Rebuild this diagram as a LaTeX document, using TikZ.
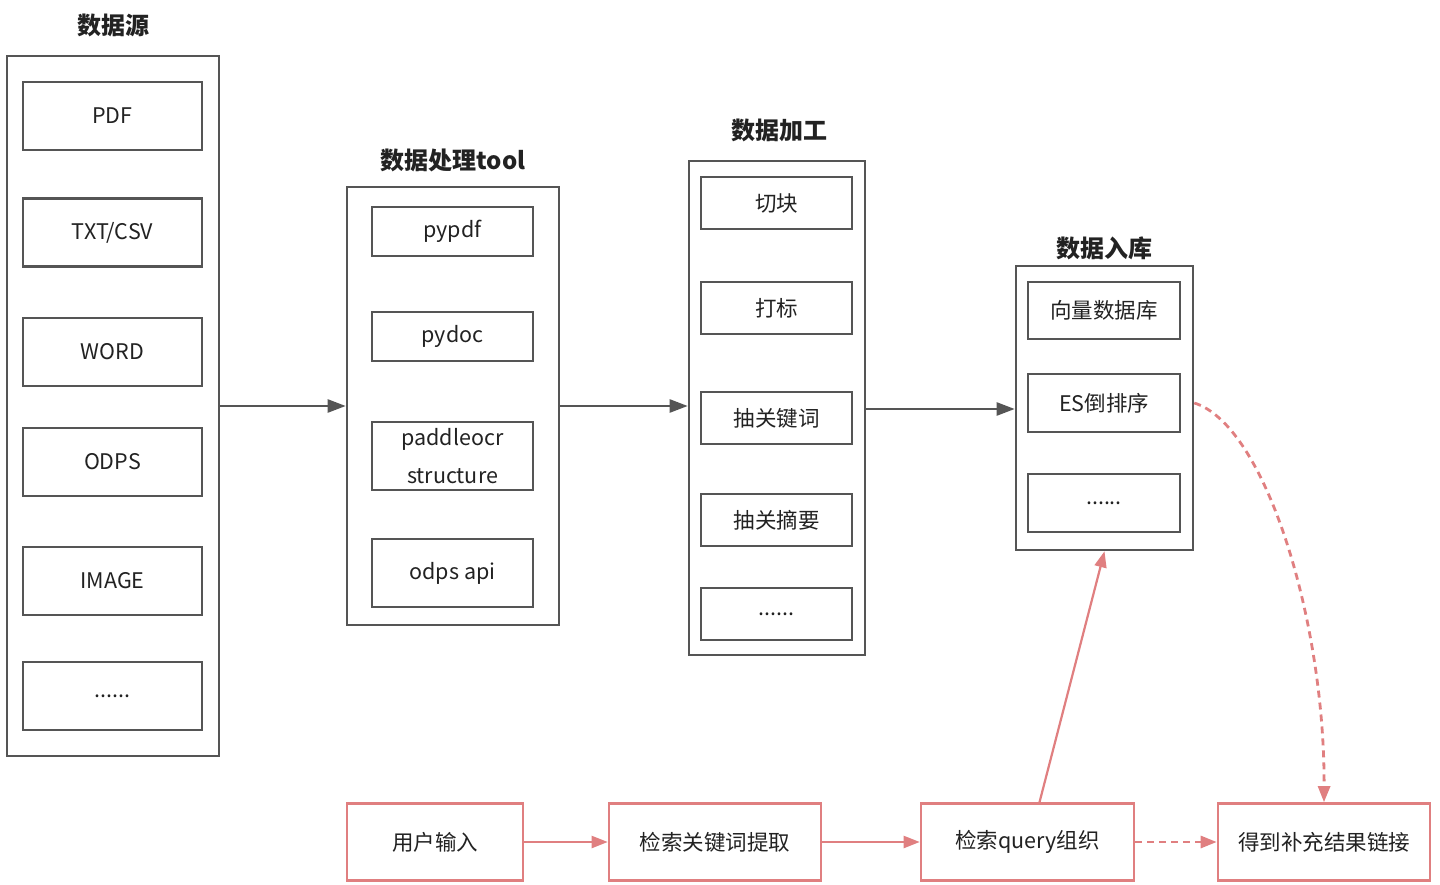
\documentclass[tikz,border=0pt]{standalone}
\usepackage{fontspec}
\setmainfont{Noto Sans CJK SC}
\usetikzlibrary{arrows.meta, positioning}
\definecolor{RGgray}{HTML}{555555}
\definecolor{RGred}{HTML}{E07F80}
\definecolor{RGink}{HTML}{222222}
\tikzset{
  grpbox/.style={rectangle, draw=RGgray, line width=2.6pt, fill=white, inner sep=0pt},
  itembox/.style={rectangle, draw=RGgray, line width=2.6pt, fill=white, text=RGink,
    align=center, inner sep=0pt, font=\fontsize{21.5}{38}\selectfont},
  grptitle/.style={text=RGink, inner sep=0pt, font=\fontsize{24}{28}\selectfont\bfseries},
  flowbox/.style={rectangle, draw=RGred, line width=2.6pt, fill=white, text=RGink,
    align=center, inner sep=0pt, minimum height=77pt, font=\fontsize{21.5}{26}\selectfont},
  grarr/.style={-{Triangle[length=18pt,width=13pt]}, line width=2.4pt, draw=RGgray},
  rdarr/.style={-{Triangle[length=16pt,width=12pt]}, line width=2.2pt, draw=RGred},
  rddash/.style={rdarr, line width=2.8pt, dash pattern=on 7pt off 5pt},
}

\begin{document}
\begin{tikzpicture}[x=1pt, y=-1pt]
  \useasboundingbox (0,0) rectangle (1440,885);
  %% Column 1: 数据源
  \node[grpbox, minimum width=212pt, minimum height=700pt] (src) at (113,406) {};
  \node[grptitle] (srct) at (113,25) {数据源};
  \node[itembox, minimum width=179pt, minimum height=68pt] (pdf) at (112.5,116) {PDF};
  \node[itembox, minimum width=179pt, minimum height=68pt] (txt) at (112.5,232.5) {TXT/CSV};
  \node[itembox, minimum width=179pt, minimum height=68pt] (word) at (112.5,352) {WORD};
  \node[itembox, minimum width=179pt, minimum height=68pt] (odps) at (112.5,462) {ODPS};
  \node[itembox, minimum width=179pt, minimum height=68pt] (img) at (112.5,581) {IMAGE};
  \node[itembox, minimum width=179pt, minimum height=68pt] (srcx) at (112.5,696) {......};
  %% Column 2: 数据处理tool
  \node[grpbox, minimum width=212pt, minimum height=438pt] (proc) at (453,406) {};
  \node[grptitle] (proct) at (453,160) {数据处理tool};
  \node[itembox, minimum width=161pt, minimum height=49pt] (pypdf) at (452.5,231.5) {pypdf};
  \node[itembox, minimum width=161pt, minimum height=49pt] (pydoc) at (452.5,336.5) {pydoc};
  \node[itembox, minimum width=161pt, minimum height=68pt] (paddle) at (452.5,456) {paddleocr\\structure};
  \node[itembox, minimum width=161pt, minimum height=68pt] (odpsapi) at (452.5,573) {odps api};
  %% Column 3: 数据加工
  \node[grpbox, minimum width=176pt, minimum height=494pt] (cook) at (777,408) {};
  \node[grptitle] (cookt) at (779,130) {数据加工};
  \node[itembox, minimum width=151pt, minimum height=52pt] (chunk) at (776.5,203) {切块};
  \node[itembox, minimum width=151pt, minimum height=52pt] (tag) at (776.5,308) {打标};
  \node[itembox, minimum width=151pt, minimum height=52pt] (kwd) at (776.5,418) {抽关键词};
  \node[itembox, minimum width=151pt, minimum height=52pt] (abs) at (776.5,520) {抽关摘要};
  \node[itembox, minimum width=151pt, minimum height=52pt] (cookx) at (776.5,614) {......};
  %% Column 4: 数据入库
  \node[grpbox, minimum width=177pt, minimum height=284pt] (store) at (1104.5,408) {};
  \node[grptitle] (storet) at (1104,248) {数据入库};
  \node[itembox, minimum width=152pt, minimum height=57pt] (vdb) at (1104,310.5) {向量数据库};
  \node[itembox, minimum width=152pt, minimum height=58pt] (es) at (1104,403) {ES倒排序};
  \node[itembox, minimum width=152pt, minimum height=58pt] (storex) at (1104,503) {......};
  %% Bottom row: query flow
  \node[flowbox, minimum width=176pt] (user) at (435,842) {用户输入};
  \node[flowbox, minimum width=212pt] (kw) at (715,842) {检索关键词提取};
  \node[flowbox, minimum width=213pt] (query) at (1027.5,842) {检索query组织};
  \node[flowbox, minimum width=212pt] (result) at (1324,842) {得到补充结果链接};
  %% Arrows
  \draw[grarr] (src.east |- 0,406) -- (proc.west |- 0,406);
  \draw[grarr] (proc.east |- 0,406) -- (cook.west |- 0,406);
  \draw[grarr] (cook.east |- 0,409) -- (store.west |- 0,409);
  \draw[rdarr] (user) -- (kw);
  \draw[rdarr] (kw) -- (query);
  \draw[rddash] (query) -- (result);
  \draw[rdarr] ([xshift=12pt]query.north) -- (store.south);
  \draw[rddash] (store.east |- es) .. controls (1265,425) and (1325,620) .. (result.north);
\end{tikzpicture}
\end{document}
